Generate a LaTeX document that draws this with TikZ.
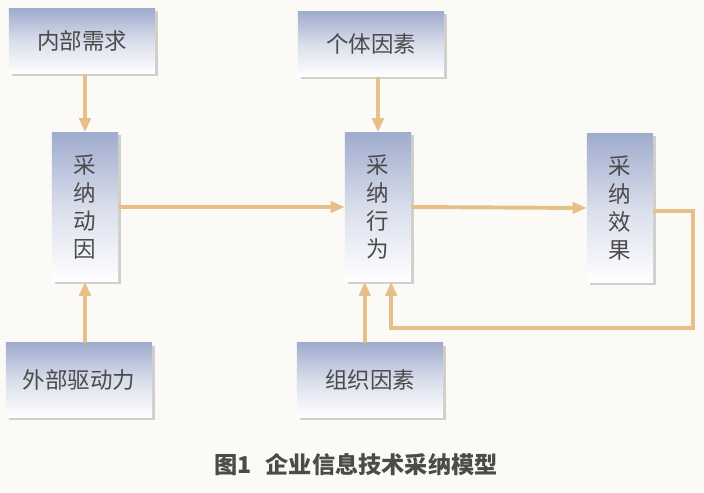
\documentclass[tikz,border=0pt]{standalone}
\usepackage{fontspec}
\newfontfamily\cjk{Noto Sans CJK SC}
\usetikzlibrary{arrows.meta,shadows}
\definecolor{boxblue}{RGB}{160,172,206}
\definecolor{flowtan}{RGB}{230,192,136}
\definecolor{inkgray}{RGB}{75,75,75}
\definecolor{paper}{RGB}{251,250,246}
\tikzset{every node/.style={font=\cjk\fontsize{16}{20}\selectfont, text=inkgray, inner sep=0pt},
  block/.style={shading=axis, top color=boxblue, bottom color=white, middle color=boxblue!40,
    drop shadow={shadow xshift=2pt, shadow yshift=-2pt, opacity=0.35}, align=center},
  hblock/.style={block, minimum width=3.65cm, minimum height=1.62cm},
  vblock/.style={block, minimum width=1.65cm, minimum height=3.72cm},
  flow/.style={flowtan, line width=2.8pt, -{Triangle[width=8pt,length=10pt]}}}

\begin{document}
\begin{tikzpicture}[x=0.025cm, y=-0.025cm]
  \fill[paper] (0,0) rectangle (704,493);
  \useasboundingbox (0,0) rectangle (704,493);

  \node[hblock] (nb) at ( 82, 41) {内部需求};
  \node[hblock] (gt) at (371, 44) {个体因素};
  \node[vblock] (dy) at ( 85,207) {采\\纳\\动\\因};
  \node[vblock] (xw) at (378,207) {采\\纳\\行\\为};
  \node[vblock] (xg) at (620,208) {采\\纳\\效\\果};
  \node[hblock, minimum height=1.85cm] (wb) at ( 79,380) {外部驱动力};
  \node[hblock, minimum height=1.85cm] (zz) at (370,380) {组织因素};
  \coordinate (fb) at (693,328);

  \draw[flow] (dy.north |- nb.south) -- (dy.north);
  \draw[flow] (xw.north |- gt.south) -- (xw.north);
  \draw[flow] (dy.south |- wb.north) -- (dy.south);
  \draw[flow] ([xshift=-0.33cm]xw.south |- zz.north) -- ([xshift=-0.33cm]xw.south);
  \draw[flow] (dy.east) -- (xw.west);
  \draw[flow] (xw.east) -- (xg.west);
  \draw[flow] ([yshift=-2pt]xg.east) -| (fb) -| ([xshift=0.33cm]xw.south);

  \node (cap) at (356,465) {\bfseries\fontsize{16.5}{18}\selectfont 图1\hspace{0.6em}企业信息技术采纳模型};
\end{tikzpicture}
\end{document}
